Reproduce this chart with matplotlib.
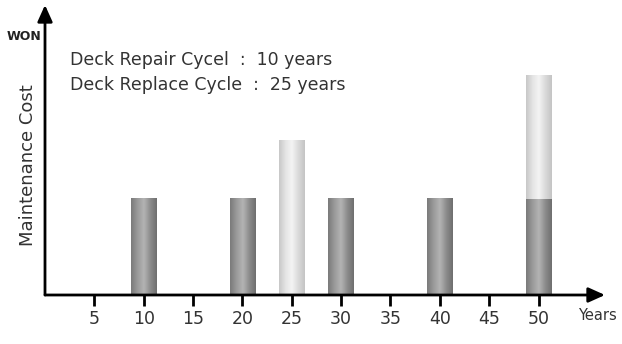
import numpy as np
import matplotlib
matplotlib.use("Agg")
import matplotlib.pyplot as plt
from matplotlib.colors import LinearSegmentedColormap

# data (cost in arbitrary units)
repair_years = [10, 20, 30, 40, 50]
repair_cost = [96, 96, 96, 96, 96]
replace_years = [25, 50]
replace_cost = [154, 123]
replace_base = [0, 96]
ticks = [5, 10, 15, 20, 25, 30, 35, 40, 45, 50]

plt.rcParams['font.family'] = ['DejaVu Sans']
txt = '#333333'

fig = plt.figure(figsize=(6.22, 3.44), dpi=100)
ax = fig.add_axes([45/622, 49/344, 560/622, 290/344])

dark = LinearSegmentedColormap.from_list("dark", ["#7a7a7a", "#9a9a9a", "#b4b4b4", "#8c8c8c", "#6f6f6f"])
light = LinearSegmentedColormap.from_list("light", ["#c8c8c8", "#e4e4e4", "#f4f4f4", "#dadada", "#c4c4c4"])
grad = np.linspace(0, 1, 64).reshape(1, -1)
w = 2.6

def bar(x, b, h, cmap):
    ax.imshow(grad, cmap=cmap, aspect='auto', extent=[x - w/2, x + w/2, b, b + h],
              interpolation='bicubic', zorder=2)

for x, h in zip(repair_years, repair_cost):
    bar(x, 0, h, dark)
for x, b, h in zip(replace_years, replace_base, replace_cost):
    bar(x, b, h, light)
ax.set_xlim(0, 560/9.87)
ax.set_ylim(0, 290)

for s in ax.spines.values():
    s.set_visible(False)
ax.set_xticks(ticks)
ax.set_yticks([])
ax.tick_params(axis='x', direction='out', length=8, width=2, labelsize=12.5, pad=3,
               labelcolor=txt)

arr = dict(arrowstyle='-|>,head_length=1.0,head_width=0.45', color='black', lw=2,
           shrinkA=0, shrinkB=0)
ax.annotate('', xy=(1, 0), xytext=(0, 0), xycoords='axes fraction', arrowprops=arr, zorder=5)
ax.annotate('', xy=(0, 1), xytext=(0, 0), xycoords='axes fraction', arrowprops=arr, zorder=5)

fig.text(597/622, 1 - 316/344, "Years", fontsize=10.5, ha='center', va='center', color=txt)
fig.text(24/622, 1 - 37/344, "WON", fontsize=9, ha='center', va='center', color='#222222',
         fontweight='bold')
fig.text(28/622, 1 - 165/344, "Maintenance Cost", fontsize=13, rotation=90,
         ha='center', va='center', color=txt)
fig.text(70/622, 1 - 60/344, "Deck Repair Cycel  :  10 years", fontsize=12.5, va='center', color=txt)
fig.text(70/622, 1 - 85/344, "Deck Replace Cycle  :  25 years", fontsize=12.5, va='center', color=txt)

fig.savefig("out.png", dpi=100)
